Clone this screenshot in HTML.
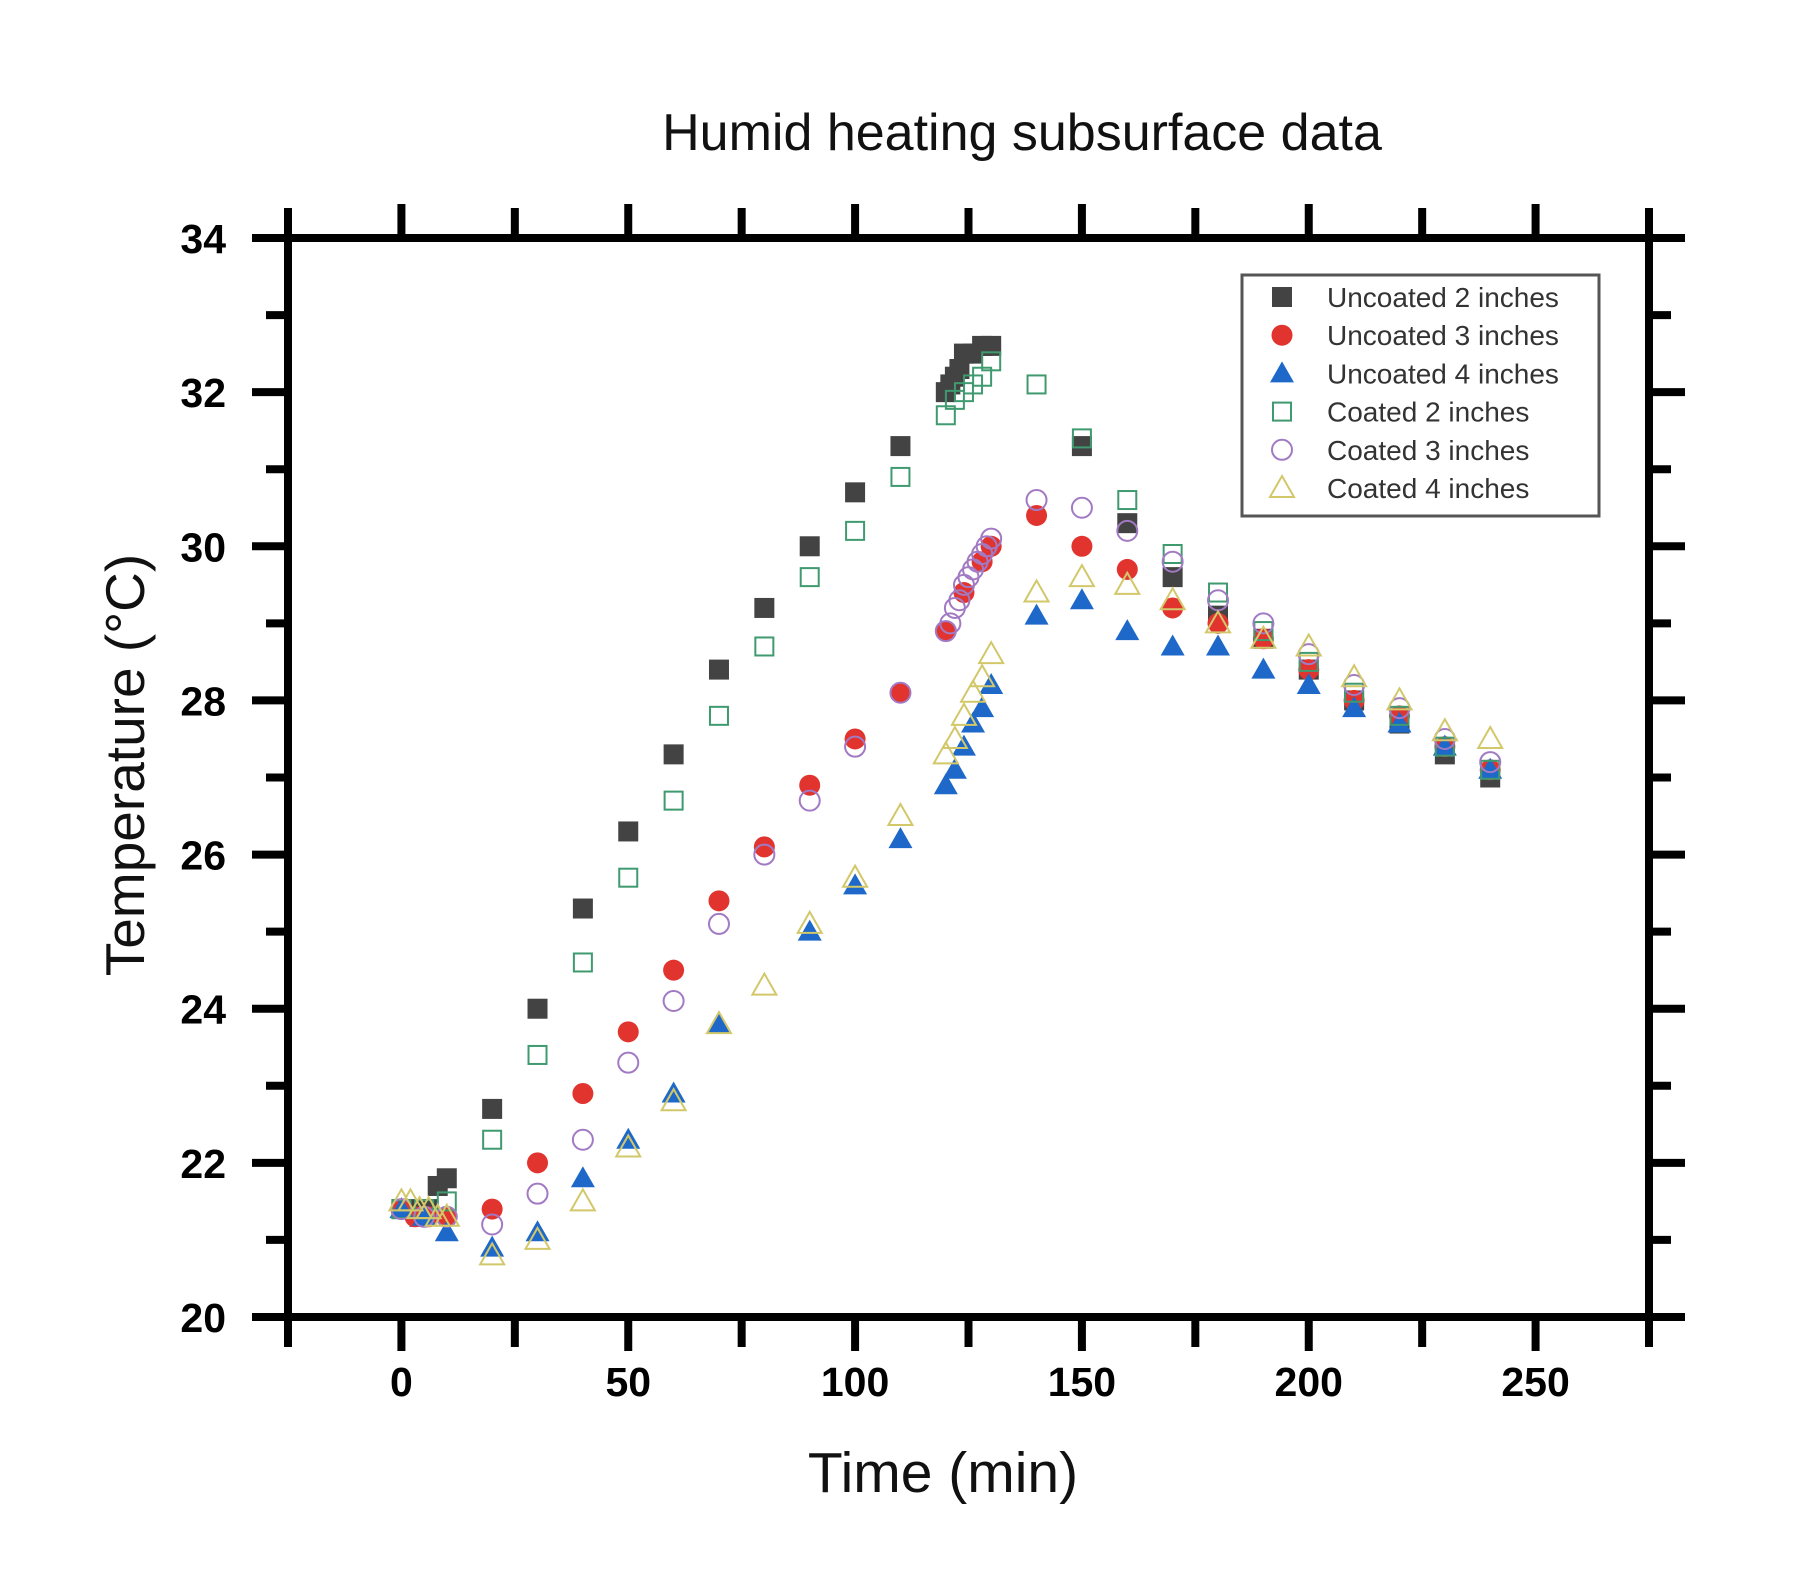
<!DOCTYPE html>
<html><head><meta charset="utf-8"><style>
html,body{margin:0;padding:0;background:#fff;}
svg{display:block;}
</style></head><body>
<svg id="c" width="1814" height="1590" xmlns="http://www.w3.org/2000/svg" font-family="Liberation Sans, Arial, sans-serif">
<rect width="1814" height="1590" fill="#fff"/>
<text x="1022" y="150" font-size="52" text-anchor="middle" fill="#111">Humid heating subsurface data</text>
<text transform="translate(144,765) rotate(-90)" font-size="55" text-anchor="middle" fill="#111">Temperature (°C)</text>
<text x="943" y="1492" font-size="57" text-anchor="middle" fill="#111">Time (min)</text>
<g id="axes"></g>
<g id="data"></g>
<g id="legend"></g>
</svg>
<script>
const NS="http://www.w3.org/2000/svg";
const X0=288,X1=1649,Y0=238,Y1=1317;
const xv=v=>X0+(v+25)*(X1-X0)/300;
const yv=v=>Y1-(v-20)*(Y1-Y0)/14;
function el(t,a,p){const e=document.createElementNS(NS,t);for(const k in a)e.setAttribute(k,a[k]);(p||document.getElementById('data')).appendChild(e);return e;}
const ax=document.getElementById('axes');
el('rect',{x:X0,y:Y0,width:X1-X0,height:Y1-Y0,fill:'none',stroke:'#000','stroke-width':8},ax);
for(let v=-25;v<=275;v+=25){const x=xv(v);const L=(v%50===0)?34:30;
 el('line',{x1:x,x2:x,y1:Y1,y2:Y1+L,stroke:'#000','stroke-width':8},ax);
 el('line',{x1:x,x2:x,y1:Y0,y2:Y0-L,stroke:'#000','stroke-width':8},ax);
 if(v>=0&&v<=250&&v%50===0){const t=el('text',{x:x,y:1396,'font-size':41,'font-weight':'bold','text-anchor':'middle',fill:'#000'},ax);t.textContent=v;}}
for(let v=20;v<=34;v+=1){const y=yv(v);const L=(v%2===0)?36:22;
 el('line',{x1:X0,x2:X0-L,y1:y,y2:y,stroke:'#000','stroke-width':8},ax);
 el('line',{x1:X1,x2:X1+L,y1:y,y2:y,stroke:'#000','stroke-width':8},ax);
 if(v%2===0){const t=el('text',{x:226,y:y+15,'font-size':41,'font-weight':'bold','text-anchor':'end',fill:'#000'},ax);t.textContent=v;}}
function mk(type,cx,cy,g){
 switch(type){
 case 0:el('rect',{x:cx-10,y:cy-10,width:20,height:20,fill:'#434343'},g);break;
 case 1:el('circle',{cx,cy,r:10.5,fill:'#e2342f'},g);break;
 case 2:el('polygon',{points:`${cx-12},${cy+9} ${cx+12},${cy+9} ${cx},${cy-12}`,fill:'#1d68c8'},g);break;
 case 3:el('rect',{x:cx-9,y:cy-9,width:18,height:18,fill:'none',stroke:'#3f9a70','stroke-width':2},g);break;
 case 4:el('circle',{cx,cy,r:10,fill:'none',stroke:'#a27ac4','stroke-width':2},g);break;
 case 5:el('polygon',{points:`${cx-12},${cy+9} ${cx+12},${cy+9} ${cx},${cy-12}`,fill:'none',stroke:'#d2c86a','stroke-width':2},g);break;}}
const D=[
[[0,21.4],[2,21.4],[4,21.3],[6,21.4],[8,21.7],[10,21.8],[20,22.7],[30,24.0],[40,25.3],[50,26.3],[60,27.3],[70,28.4],[80,29.2],[90,30.0],[100,30.7],[110,31.3],[120,32.0],[121,32.1],[122,32.2],[123,32.3],[124,32.5],[126,32.5],[128,32.6],[130,32.6],[150,31.3],[160,30.3],[170,29.6],[180,29.1],[190,28.8],[200,28.4],[210,28.0],[220,27.7],[230,27.3],[240,27.0]],
[[0,21.4],[3,21.3],[6,21.3],[10,21.3],[20,21.4],[30,22.0],[40,22.9],[50,23.7],[60,24.5],[70,25.4],[80,26.1],[90,26.9],[100,27.5],[110,28.1],[120,28.9],[124,29.4],[128,29.8],[130,30.0],[140,30.4],[150,30.0],[160,29.7],[170,29.2],[180,29.0],[190,28.8],[200,28.4],[210,28.0],[220,27.8],[230,27.4],[240,27.1]],
[[0,21.4],[5,21.3],[10,21.1],[20,20.9],[30,21.1],[40,21.8],[50,22.3],[60,22.9],[70,23.8],[90,25.0],[100,25.6],[110,26.2],[120,26.9],[122,27.1],[124,27.4],[126,27.7],[128,27.9],[130,28.2],[140,29.1],[150,29.3],[160,28.9],[170,28.7],[180,28.7],[190,28.4],[200,28.2],[210,27.9],[220,27.7],[230,27.4],[240,27.1]],
[[0,21.4],[5,21.4],[10,21.5],[20,22.3],[30,23.4],[40,24.6],[50,25.7],[60,26.7],[70,27.8],[80,28.7],[90,29.6],[100,30.2],[110,30.9],[120,31.7],[122,31.9],[124,32.0],[126,32.1],[128,32.2],[130,32.4],[140,32.1],[150,31.4],[160,30.6],[170,29.9],[180,29.4],[190,28.9],[200,28.5],[210,28.1],[220,27.8],[230,27.4],[240,27.1]],
[[0,21.4],[5,21.3],[10,21.3],[20,21.2],[30,21.6],[40,22.3],[50,23.3],[60,24.1],[70,25.1],[80,26.0],[90,26.7],[100,27.4],[110,28.1],[120,28.9],[121,29.0],[122,29.2],[123,29.3],[124,29.5],[125,29.6],[126,29.7],[127,29.8],[128,29.9],[129,30.0],[130,30.1],[140,30.6],[150,30.5],[160,30.2],[170,29.8],[180,29.3],[190,29.0],[200,28.6],[210,28.2],[220,27.9],[230,27.5],[240,27.2]],
[[0,21.5],[2,21.5],[4,21.4],[6,21.4],[8,21.3],[10,21.3],[20,20.8],[30,21.0],[40,21.5],[50,22.2],[60,22.8],[70,23.8],[80,24.3],[90,25.1],[100,25.7],[110,26.5],[120,27.3],[122,27.5],[124,27.8],[126,28.1],[128,28.3],[130,28.6],[140,29.4],[150,29.6],[160,29.5],[170,29.3],[180,29.0],[190,28.8],[200,28.7],[210,28.3],[220,28.0],[230,27.6],[240,27.5]]];
D.forEach((s,i)=>s.forEach(p=>mk(i,xv(p[0]),yv(p[1]))));
const lg=document.getElementById('legend');
el('rect',{x:1242,y:275,width:357,height:241,fill:'#fff',stroke:'#555','stroke-width':3},lg);
const names=['Uncoated 2 inches','Uncoated 3 inches','Uncoated 4 inches','Coated 2 inches','Coated 3 inches','Coated 4 inches'];
names.forEach((n,i)=>{const cy=297+i*38.2;mk(i,1282,cy,lg);const t=el('text',{x:1327,y:cy+10,'font-size':28,fill:'#333'},lg);t.textContent=n;});
</script>
</body></html>
